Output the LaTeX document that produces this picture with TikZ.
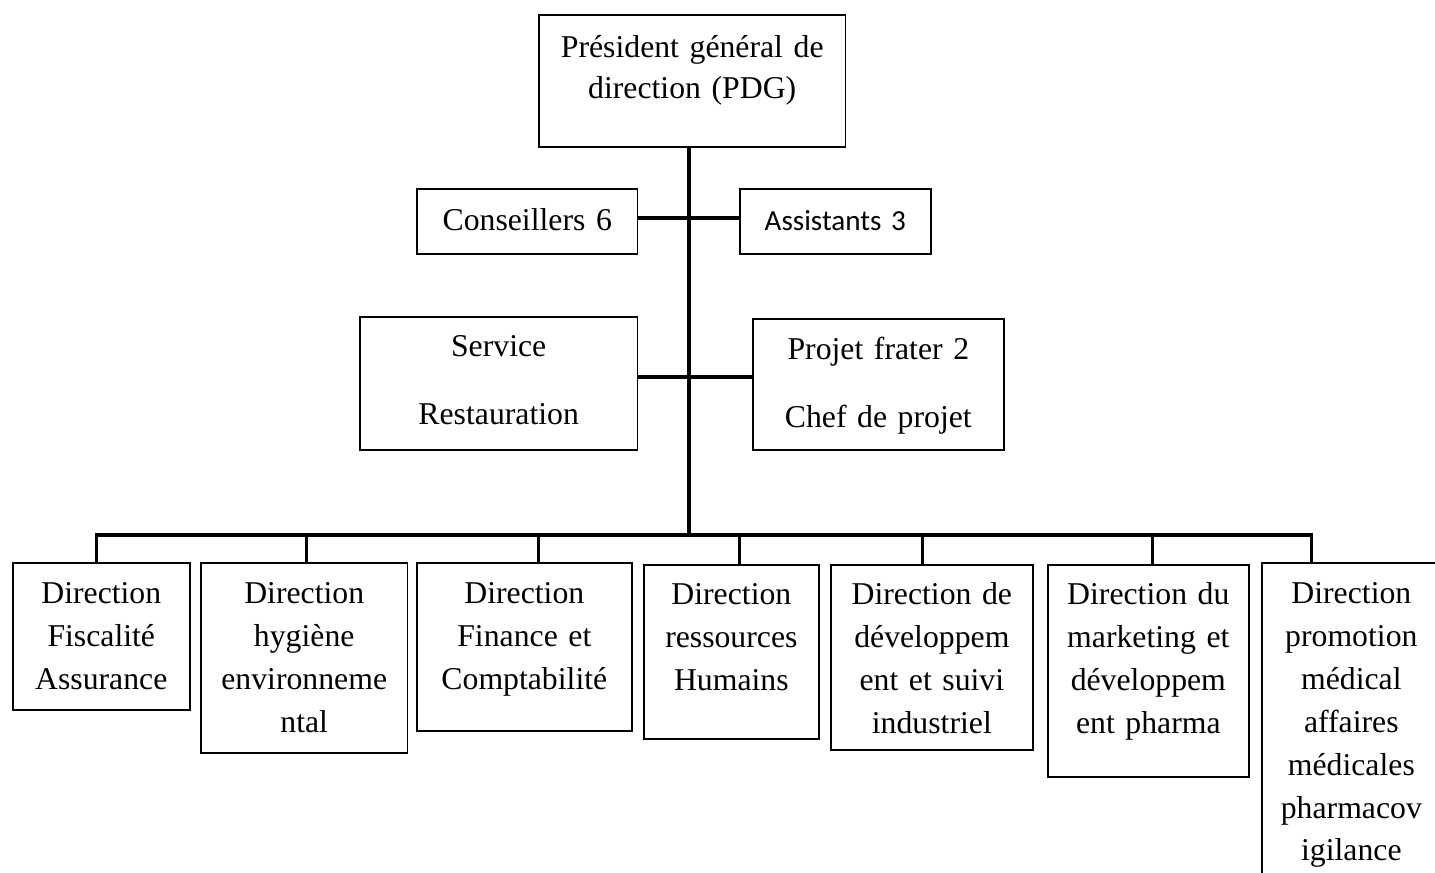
\documentclass[tikz,border=0pt]{standalone}
\usepackage{fontspec}
\setmainfont{Liberation Serif}
\newfontfamily\calibrifont{Carlito}
\tikzset{
  orgbox/.style={draw, line width=0.6pt, anchor=north west, align=center,
    inner xsep=0pt, inner ysep=0pt, font=\fontsize{12}{16.2}\selectfont},
  dirbox/.style={orgbox, text height=15.5pt},
  link/.style={line width=1.15pt}
}

\begin{document}
\begin{tikzpicture}[x=0.378pt, y=-0.378pt]
		\useasboundingbox (0,0) rectangle (1435,872);
		\clip (0,0) rectangle (1435,872);
		% top of the chart
		\node[orgbox, text width=116pt, text height=16.3pt, text depth=33.6pt, font=\fontsize{12}{15.5}\selectfont] (pdg) at (538,14) {Président général de\\direction (PDG)};
		\node[orgbox, text width=83.5pt, text height=15.9pt, text depth=8.7pt] (cons) at (416,188) {Conseillers 6};
		\node[orgbox, text width=72.2pt, text height=15.9pt, text depth=8.7pt, font=\calibrifont\fontsize{11}{13}\selectfont] (asst) at (739,188) {Assistants 3};
		\node[orgbox, text width=105pt, text height=15.1pt, text depth=35.2pt, font=\fontsize{12}{25.7}\selectfont] (serv) at (359,316) {Service\\Restauration};
		\node[orgbox, text width=94.9pt, text height=15.5pt, text depth=34pt, font=\fontsize{12}{25.7}\selectfont] (proj) at (752,318) {Projet frater 2\\Chef de projet};
		%
		\node[dirbox, text width=66.9pt, text depth=40.1pt] (dirA) at (12,562) {Direction\\Fiscalité\\Assurance};
		\node[dirbox, text width=78.2pt, text depth=56.3pt] (dirB) at (200,562) {Direction\\hygiène\\environneme\\ntal};
		\node[dirbox, text width=81.3pt, text depth=48pt] (dirC) at (416,562) {Direction\\Finance et\\Comptabilité};
		\node[dirbox, text width=66.2pt, text height=15.1pt, text depth=50.7pt] (dirD) at (643,564) {Direction\\ressources\\Humains};
		\node[dirbox, text width=76.4pt, text height=15.1pt, text depth=54.8pt] (dirE) at (830,564) {Direction de\\développem\\ent et suivi\\industriel};
		\node[dirbox, text width=76pt, text height=15.1pt, text depth=65pt] (dirF) at (1047,564) {Direction du\\marketing et\\développem\\ent pharma};
		\node[dirbox, text width=67.7pt, text depth=113pt] (dirG) at (1261,562) {Direction\\promotion\\médical\\affaires\\médicales\\pharmacov\\igilance};
		%
		\coordinate (advise) at (689,218);
		\coordinate (staff) at (689,377);
		\coordinate (bus) at (689,535);
		\draw[link] (pdg.south -| bus) -- (bus);
		\draw[link] (cons.east |- advise) -- (asst.west |- advise);
		\draw[link] (serv.east |- staff) -- (proj.west |- staff);
		\foreach \n/\s in {dirA/-4.5, dirB/2.5, dirC/14.5, dirD/8.5, dirE/-9, dirF/4.5, dirG/-39.5}
			\draw[link] (bus) -| ([shift={(\s,0)}]\n.north);
	\end{tikzpicture}
\end{document}
